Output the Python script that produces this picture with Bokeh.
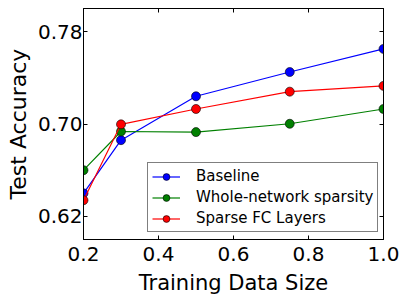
from bokeh.plotting import figure
from bokeh.models import (LinearAxis, FixedTicker, NumeralTickFormatter, Range1d,
                          Legend, LegendItem, CustomJSTickFormatter)
from bokeh.embed import file_html
from bokeh.resources import INLINE

sizes = [0.2, 0.3, 0.5, 0.75, 1.0]
baseline = [0.640, 0.686, 0.724, 0.745, 0.765]
whole_net = [0.660, 0.6935, 0.693, 0.7002, 0.713]
sparse_fc = [0.634, 0.6997, 0.713, 0.728, 0.733]
series_names = ["Baseline", "Whole-network sparsity", "Sparse FC Layers"]
series_colors = ["#0000ff", "#008000", "#ff0000"]
x_ticks = [0.2, 0.4, 0.6, 0.8, 1.0]
y_ticks = [0.62, 0.70, 0.78]

FONT = "DejaVu Sans"

p = figure(width=407, height=299, output_backend="svg", toolbar_location=None,
           x_range=Range1d(0.2, 1.0), y_range=Range1d(0.60, 0.80),
           min_border_left=83, min_border_right=24, min_border_top=8,
           min_border_bottom=60)
p.xaxis.visible = False
p.yaxis.visible = False
p.grid.visible = False
p.outline_line_color = "black"
p.outline_line_width = 1
p.background_fill_color = "white"
p.border_fill_color = "white"

def style(ax):
    ax.axis_line_color = "black"
    ax.major_tick_in = 4
    ax.major_tick_out = 0
    ax.minor_tick_in = 0
    ax.minor_tick_out = 0
    ax.major_tick_line_color = "black"
    ax.major_label_text_font = FONT
    ax.major_label_text_font_size = "20px"
    ax.major_label_text_color = "black"
    ax.axis_label_text_font = FONT
    ax.axis_label_text_font_size = "21px"
    ax.axis_label_text_font_style = "normal"
    ax.axis_label_text_color = "black"

xb = LinearAxis(ticker=FixedTicker(ticks=x_ticks), formatter=NumeralTickFormatter(format="0.0"),
                axis_label="Training Data Size")
style(xb)
xb.major_label_standoff = 7
xb.axis_label_standoff = 7
yl = LinearAxis(ticker=FixedTicker(ticks=y_ticks), formatter=NumeralTickFormatter(format="0.00"),
                axis_label="Test Accuracy")
style(yl)
yl.axis_label_text_font_size = "22px"
yl.major_label_standoff = 1
yl.axis_label_standoff = 4
blank = CustomJSTickFormatter(code="return ''")
xt = LinearAxis(ticker=FixedTicker(ticks=x_ticks), formatter=blank)
style(xt)
xt.major_label_standoff = 0
yr = LinearAxis(ticker=FixedTicker(ticks=y_ticks), formatter=blank)
style(yr)
yr.major_label_standoff = 0
p.add_layout(xb, "below")
p.add_layout(yl, "left")
p.add_layout(xt, "above")
p.add_layout(yr, "right")

items = []
for name, vals, col in zip(series_names, [baseline, whole_net, sparse_fc], series_colors):
    r1 = p.line(sizes, vals, line_color=col, line_width=1.2)
    r2 = p.scatter(sizes, vals, size=9, fill_color=col, line_color="black", line_width=0.6)
    items.append(LegendItem(label=name, renderers=[r1, r2]))

legend = Legend(items=items, location=(64, 7))
legend.label_text_font = FONT
legend.label_text_font_size = "15px"
legend.label_text_color = "black"
legend.border_line_color = "black"
legend.border_line_width = 1
legend.background_fill_alpha = 1
legend.glyph_width = 28
legend.glyph_height = 17
legend.label_height = 17
legend.label_standoff = 16
legend.spacing = 3
legend.padding = 4
legend.margin = 0
p.add_layout(legend, "center")

open("out.html", "w").write(file_html(p, INLINE))
